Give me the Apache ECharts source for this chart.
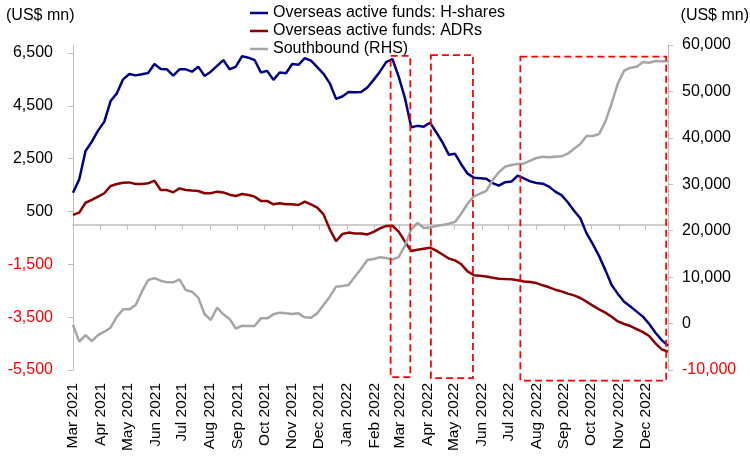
<!DOCTYPE html>
<html><head><meta charset="utf-8">
<script src="https://cdn.jsdelivr.net/npm/echarts@6/dist/echarts.min.js"></script>
<style>html,body{margin:0;padding:0;background:#fff}#c{width:750px;height:460px}</style>
</head><body><div id="c"></div>
<script>
// ---- data ----
const startDate = '2021-03-01';
const endDate = '2022-12-26';
const monthStarts = ['2021-03-01','2021-04-01','2021-05-01','2021-06-01','2021-07-01','2021-08-01','2021-09-01','2021-10-01','2021-11-01','2021-12-01',
  '2022-01-01','2022-02-01','2022-03-01','2022-04-01','2022-05-01','2022-06-01','2022-07-01','2022-08-01','2022-09-01','2022-10-01','2022-11-01','2022-12-01'];
const monthLabels = ['Mar 2021','Apr 2021','May 2021','Jun 2021','Jul 2021','Aug 2021','Sep 2021','Oct 2021','Nov 2021','Dec 2021',
  'Jan 2022','Feb 2022','Mar 2022','Apr 2022','May 2022','Jun 2022','Jul 2022','Aug 2022','Sep 2022','Oct 2022','Nov 2022','Dec 2022'];
const leftTicks = [-5500,-3500,-1500,500,2500,4500,6500];
const seriesNames = ['Overseas active funds: H-shares','Overseas active funds: ADRs','Southbound (RHS)'];
const hShares = [1210,1720,2790,3140,3560,3900,4680,4970,5500,5700,
  5650,5690,5740,6080,5890,5880,5640,5880,5880,5790,
  5980,5630,5790,6010,6230,5880,5980,6380,6320,6230,
  5760,5820,5480,5760,5730,6080,6050,6300,6210,5960,
  5710,5350,4760,4850,5020,5010,5020,5190,5480,5790,
  6150,6270,5600,4790,3690,3740,3710,3860,3500,3110,
  2650,2680,2280,1930,1780,1760,1740,1570,1480,1610,
  1630,1860,1750,1640,1580,1550,1440,1250,1120,850,
  530,240,-330,-740,-1190,-1720,-2280,-2620,-2920,-3100,
  -3290,-3480,-3760,-4090,-4370,-4580];
const adrs = [370,455,830,935,1060,1190,1465,1540,1590,1600,
  1540,1540,1565,1665,1310,1310,1225,1375,1310,1290,
  1275,1190,1190,1250,1220,1135,1085,1160,1125,1060,
  900,900,770,810,770,770,745,870,770,645,
  390,-175,-620,-355,-300,-330,-330,-370,-270,-140,
  -50,-40,-260,-640,-1000,-950,-910,-870,-980,-1130,
  -1280,-1350,-1500,-1770,-1910,-1935,-1960,-2005,-2045,-2060,
  -2065,-2100,-2150,-2170,-2210,-2295,-2370,-2460,-2525,-2610,
  -2675,-2775,-2915,-3065,-3205,-3330,-3485,-3660,-3760,-3835,
  -3950,-4065,-4215,-4490,-4720,-4810];
const southbound = [-300,-3900,-2470,-3760,-2470,-1750,-890,1480,3060,3060,
  4000,6870,9380,9800,9240,8880,8880,9530,7230,6870,
  5580,2060,770,3420,2000,1000,-1100,-460,-530,-530,
  1120,1120,1990,2350,2200,2060,2200,1340,1270,2200,
  4000,5790,7950,8090,8300,10100,11800,13690,13900,14270,
  14100,13800,14300,16800,20300,21700,20600,20700,21000,21250,
  21500,21900,23700,25800,27400,28000,28600,30900,32600,33800,
  34150,34350,34500,35085,35660,35950,35800,35950,36020,36590,
  37670,38680,40400,40400,40830,43490,47440,51740,54470,55120,
  55330,56340,56190,56550,56480,56480];
// annotation boxes: [fromDate, toDate, topValue(LHS), bottomValue(LHS)]
const boxes = [
  ['2022-02-19','2022-03-13',6390,-5770],
  ['2022-04-05','2022-05-22',6420,-5810],
  ['2022-07-14','2022-12-24',6360,-5900]
];

// ---- build ----
function ts(s){ const p = s.split('-').map(Number); return Date.UTC(p[0], p[1]-1, p[2]); }
const t0 = ts(startDate), t1 = ts(endDate);
const sp = startDate.split('-').map(Number);
const weekDates = hShares.map((_, i) => Date.UTC(sp[0], sp[1]-1, sp[2] + 7*i));
const monthTs = monthStarts.map(ts);
const fmt = v => Number(v).toLocaleString('en-US');
const FONT = 'Liberation Sans, Arial, sans-serif';
const AX = '#BFBFBF';
const colors = ['#000088', '#8B0000', '#A6A6A6'];

const chart = echarts.init(document.getElementById('c'), null, {renderer: 'canvas'});
chart.setOption({
  animation: false,
  textStyle: {fontFamily: FONT},
  legend: {
    orient: 'vertical', left: 250, top: 4, padding: 0, itemGap: 0,
    itemWidth: 18, itemHeight: 2.5, icon: 'rect', selectedMode: false,
    textStyle: {fontSize: 16, lineHeight: 18, color: '#000', fontFamily: FONT},
    data: seriesNames
  },
  graphic: [
    {type: 'text', left: 6, top: 8, style: {text: '(US$ mn)', font: '16px ' + FONT, fill: '#000'}},
    {type: 'text', right: 1, top: 8, style: {text: '(US$ mn)', font: '16px ' + FONT, fill: '#000'}}
  ],
  grid: {left: 73, right: 82, top: 45, bottom: 90, containLabel: false},
  xAxis: [
    {
      type: 'value', min: t0, max: t1, position: 'bottom',
      axisLine: {show: true, onZero: true, onZeroAxisIndex: 0, lineStyle: {color: AX, width: 1.5}},
      axisTick: {show: true, customValues: monthTs, length: 5, lineStyle: {color: AX, width: 1}},
      axisLabel: {show: false},
      splitLine: {show: false}
    },
    {
      type: 'value', min: t0, max: t1, position: 'bottom',
      axisLine: {show: false, onZero: false},
      axisTick: {show: false},
      axisLabel: {
        show: true, customValues: monthTs, rotate: 90, margin: 13,
        fontSize: 15.5, color: '#000', fontFamily: FONT,
        formatter: v => { const k = monthTs.indexOf(Number(v)); return k >= 0 ? monthLabels[k] : ''; }
      },
      splitLine: {show: false}
    }
  ],
  yAxis: [
    {
      type: 'value', position: 'left', min: -5500, max: 6800,
      axisLine: {show: true, onZero: false, lineStyle: {color: AX, width: 1}},
      axisTick: {show: true, customValues: leftTicks, length: 5, lineStyle: {color: AX}},
      axisLabel: {customValues: leftTicks, margin: 20, fontSize: 16, fontFamily: FONT,
        color: v => v < 0 ? '#FF0000' : '#000', formatter: fmt},
      splitLine: {show: false}
    },
    {
      type: 'value', position: 'right', min: -10000, max: 60000, interval: 10000,
      axisLine: {show: true, onZero: false, lineStyle: {color: AX, width: 1}},
      axisTick: {show: true, length: 5, lineStyle: {color: AX}},
      axisLabel: {margin: 14, fontSize: 16, fontFamily: FONT,
        color: v => v < 0 ? '#FF0000' : '#000', formatter: fmt},
      splitLine: {show: false}
    }
  ],
  series: [
    {
      name: seriesNames[0], type: 'line', xAxisIndex: 0, yAxisIndex: 0,
      data: weekDates.map((t, i) => [t, hShares[i]]),
      symbol: 'none', lineStyle: {color: colors[0], width: 2.5}, itemStyle: {color: colors[0]}
    },
    {
      name: seriesNames[1], type: 'line', xAxisIndex: 0, yAxisIndex: 0,
      data: weekDates.map((t, i) => [t, adrs[i]]),
      symbol: 'none', lineStyle: {color: colors[1], width: 2.5}, itemStyle: {color: colors[1]}
    },
    {
      name: seriesNames[2], type: 'line', xAxisIndex: 0, yAxisIndex: 1,
      data: weekDates.map((t, i) => [t, southbound[i]]),
      symbol: 'none', lineStyle: {color: colors[2], width: 2.5}, itemStyle: {color: colors[2]}
    },
    {
      name: 'boxes', type: 'custom', xAxisIndex: 0, yAxisIndex: 0, clip: false, silent: true, z: 5,
      data: boxes.map(b => [ts(b[0]), ts(b[1]), b[2], b[3]]),
      encode: {x: [0, 1], y: [2, 3]},
      renderItem: (params, api) => {
        const p1 = api.coord([api.value(0), api.value(2)]);
        const p2 = api.coord([api.value(1), api.value(3)]);
        return {
          type: 'rect',
          shape: {x: p1[0], y: p1[1], width: p2[0] - p1[0], height: p2[1] - p1[1]},
          style: {fill: null, stroke: '#FF0000', lineWidth: 1.8, lineDash: [7, 4]}
        };
      }
    }
  ]
});
</script>
</body></html>
